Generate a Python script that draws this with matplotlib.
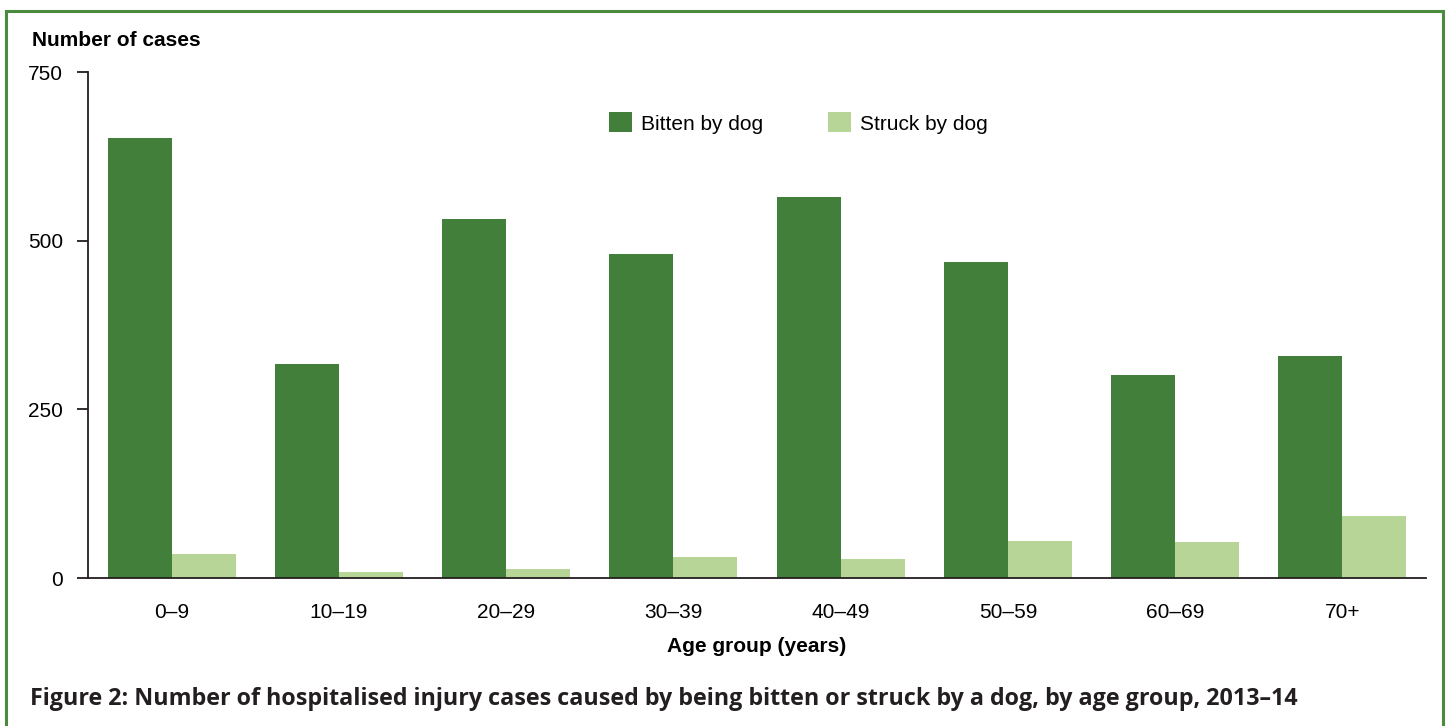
import numpy as np
import matplotlib.pyplot as plt
from matplotlib.patches import Rectangle

ages = ['0–9', '10–19', '20–29', '30–39', '40–49', '50–59', '60–69', '70+']
bitten = [652, 317, 532, 480, 565, 468, 301, 329]
struck = [36, 9, 13, 31, 28, 55, 54, 92]
yticks = [0, 250, 500, 750]

dark = '#427f3a'
light = '#b8d598'
ink = '#231f20'

plt.rcParams['font.family'] = ['Liberation Sans', 'DejaVu Sans']
fig = plt.figure(figsize=(14.49, 7.26), dpi=100)
W, H = 1449, 726
ax = fig.add_axes([88 / W, 1 - 578 / H, (1426 - 88) / W, (578 - 72) / H])

x = np.arange(len(ages))
w = 0.383
ax.bar(x - w / 2, bitten, w, color=dark, label='Bitten by dog')
ax.bar(x + w / 2, struck, w, color=light, label='Struck by dog')

ax.set_xlim(-0.5, len(ages) - 0.5)
ax.set_ylim(0, 750)
ax.set_yticks(yticks)
ax.set_xticks(x)
ax.set_xticklabels(ages)
for s in ['top', 'right']:
    ax.spines[s].set_visible(False)
for s in ['left', 'bottom']:
    ax.spines[s].set_color(ink)
    ax.spines[s].set_linewidth(1.3)
ax.tick_params(axis='y', length=8, width=1.3, color=ink, pad=10, labelsize=15, labelcolor='black')
ax.tick_params(axis='x', length=0, pad=18, labelsize=15, labelcolor='black')
ax.set_xlabel('Age group (years)', fontsize=15, fontweight='bold', labelpad=11)

ax.legend(loc='center left', bbox_to_anchor=(609 / W, 1 - 123 / H), bbox_transform=fig.transFigure,
          ncol=2, frameon=False, fontsize=15, borderpad=0, borderaxespad=0,
          handlelength=1.1, handleheight=1.1, handletextpad=0.45, columnspacing=3.1)

fig.text(32 / W, 1 - 40 / H, 'Number of cases', fontsize=15, fontweight='bold', va='center', ha='left')

cap = fig.text(30 / W, 1 - 699 / H, 'Figure 2: Number of hospitalised injury cases caused by being bitten or struck by a dog, by age group, 2013–14',
               fontsize=17, fontweight='bold', color=ink, va='center', ha='left',
               family=['Open Sans', 'DejaVu Sans'])
r = fig.canvas.get_renderer()
cw = cap.get_window_extent(r).width
cap.set_fontsize(17 * 1267 / cw)

fig.patches.append(Rectangle((6 / W, -0.1), (1437 / W), 1.1 - 11 / H, transform=fig.transFigure,
                             fill=False, edgecolor='#4b8b3f', linewidth=2.2))

fig.savefig('out.png', dpi=100)
